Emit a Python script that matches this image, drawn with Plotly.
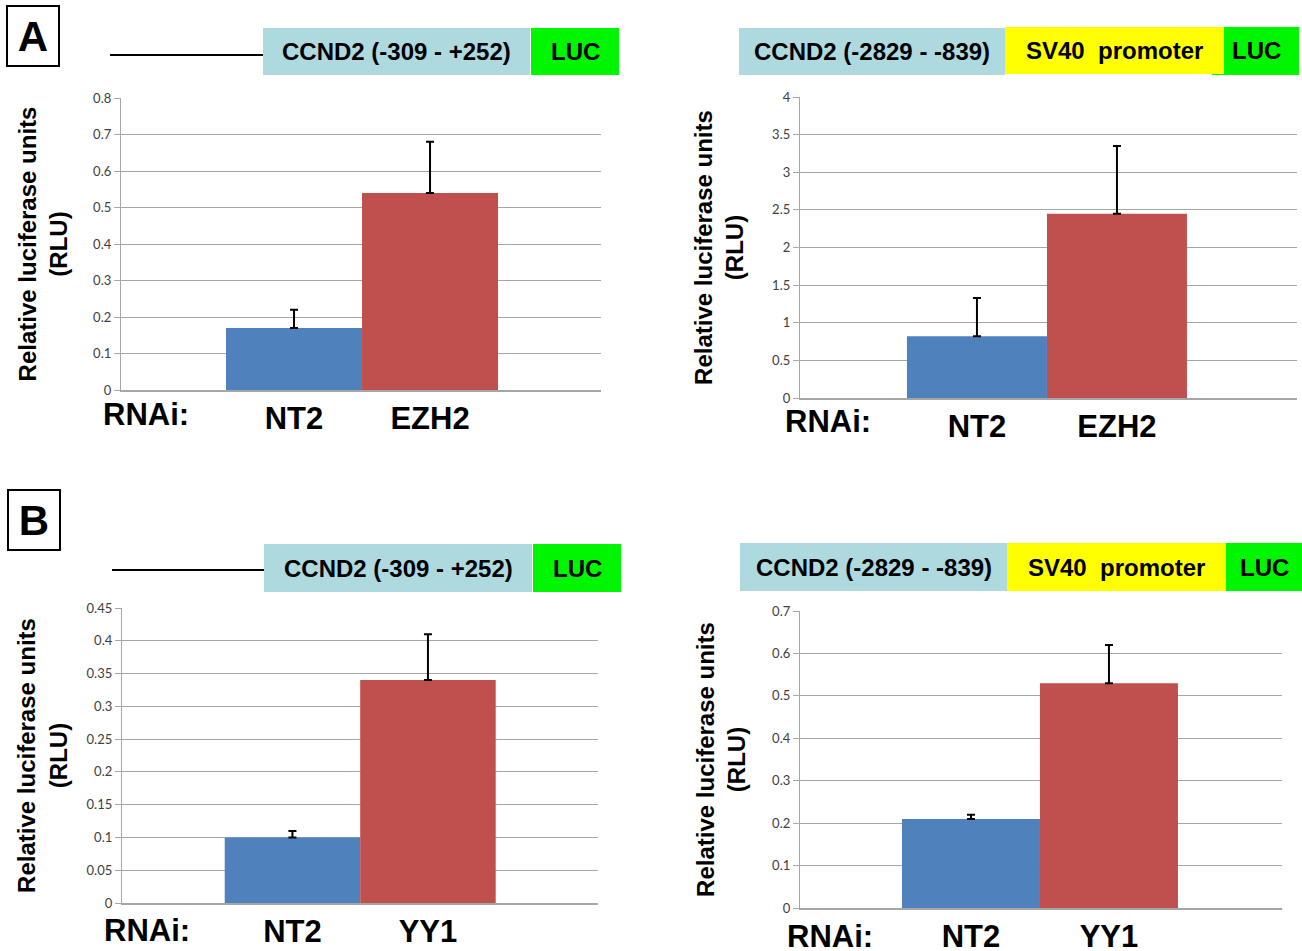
import plotly.graph_objects as go

W, H = 1302, 951

# ---------------- data ----------------
categories_A = ["NT2", "EZH2"]
categories_B = ["NT2", "YY1"]

rlu_A_proximal = [0.17, 0.54]
err_A_proximal = [0.05, 0.14]
rlu_A_distal = [0.82, 2.45]
err_A_distal = [0.51, 0.90]
rlu_B_proximal = [0.10, 0.34]
err_B_proximal = [0.01, 0.07]
rlu_B_distal = [0.21, 0.53]
err_B_distal = [0.01, 0.09]

ticks_A_proximal = [0, 0.1, 0.2, 0.3, 0.4, 0.5, 0.6, 0.7, 0.8]
ticks_A_distal = [0, 0.5, 1, 1.5, 2, 2.5, 3, 3.5, 4]
ticks_B_proximal = [0, 0.05, 0.1, 0.15, 0.2, 0.25, 0.3, 0.35, 0.4, 0.45]
ticks_B_distal = [0, 0.1, 0.2, 0.3, 0.4, 0.5, 0.6, 0.7]

bar_colors = ["#4F81BD", "#C0504D"]
y_title = "Relative luciferase units<br>(RLU)"
rnai_label = "RNAi:"
panel_letters = ["A", "B"]
label_proximal = "CCND2 (-309 - +252)"
label_distal = "CCND2 (-2829 - -839)"
label_sv40 = "SV40  promoter"
label_luc = "LUC"

# ---------------- helpers ----------------
def px(x):
    return x / W

def py(y):
    return 1 - y / H

NARROW = "Liberation Sans Narrow, Arial Narrow, Liberation Sans, Arial"
ARIAL = "Liberation Sans, Arial"
TICKFONT = "Lato, Carlito, Calibri, Open Sans"
GRID = "#A6A6A6"

panels = [
    dict(cats=categories_A, vals=rlu_A_proximal, errs=err_A_proximal, ticks=ticks_A_proximal,
         box=(121, 601, 98, 390), rng=(-1.272, 2.257), standoff=18, rnai=(146, 415)),
    dict(cats=categories_A, vals=rlu_A_distal, errs=err_A_distal, ticks=ticks_A_distal,
         box=(800, 1297, 97, 398), rng=(-1.264, 2.286), standoff=21, rnai=(828, 421)),
    dict(cats=categories_B, vals=rlu_B_proximal, errs=err_B_proximal, ticks=ticks_B_proximal,
         box=(122, 598, 608, 903), rng=(-1.258, 2.255), standoff=12, rnai=(147, 930)),
    dict(cats=categories_B, vals=rlu_B_distal, errs=err_B_distal, ticks=ticks_B_distal,
         box=(800, 1282, 611, 908), rng=(-1.239, 2.254), standoff=19, rnai=(830, 936)),
]

fig = go.Figure()
layout = dict(
    width=W, height=H,
    margin=dict(l=0, r=0, t=0, b=0),
    paper_bgcolor="white", plot_bgcolor="white",
    showlegend=False,
    shapes=[], annotations=[],
)

for i, p in enumerate(panels):
    n = "" if i == 0 else str(i + 1)
    x0, x1, y0, y1 = p["box"]
    fig.add_trace(go.Bar(
        x=p["cats"], y=p["vals"],
        xaxis="x" + n, yaxis="y" + n,
        width=1.0,
        marker=dict(color=bar_colors, line=dict(width=0)),
        error_y=dict(type="data", array=p["errs"], arrayminus=[0] * len(p["errs"]),
                     symmetric=False, color="black", thickness=2, width=4),
    ))
    layout["xaxis" + n] = dict(
        domain=[px(x0), px(x1)], anchor="y" + n, type="category",
        range=list(p["rng"]), showgrid=False, zeroline=False,
        showline=True, linecolor=GRID, linewidth=1.5,
        ticks="", ticklabelstandoff=0,
        tickfont=dict(family=NARROW, size=31, color="black", weight="bold"),
        automargin=False, fixedrange=True,
    )
    layout["yaxis" + n] = dict(
        domain=[py(y1), py(y0)], anchor="x" + n,
        range=[0, p["ticks"][-1]],
        tickvals=p["ticks"], ticktext=[f"{v:g}" for v in p["ticks"]],
        showgrid=True, gridcolor=GRID, gridwidth=1.3,
        zeroline=False, showline=True, linecolor=GRID, linewidth=1.3,
        ticks="outside", ticklen=6, tickcolor=GRID, tickwidth=1.3,
        tickfont=dict(family=TICKFONT, size=13, color="#404040"),
        title=dict(text=y_title, standoff=p["standoff"],
                   font=dict(family=ARIAL, size=24, color="black", weight="bold")),
        automargin=False, fixedrange=True,
    )
    rx, ry = p["rnai"]
    layout["annotations"].append(dict(
        text=rnai_label, x=px(rx), y=py(ry), xref="paper", yref="paper",
        showarrow=False, xanchor="center", yanchor="middle",
        font=dict(family=NARROW, size=31, color="black", weight="bold"),
    ))

# ---------------- construct diagrams ----------------
HEADFONT = dict(family=NARROW, size=24, color="black", weight="bold")

def box(xa, xb, ya, yb, color, text=None):
    layout["shapes"].append(dict(type="rect", xref="paper", yref="paper",
                                 x0=px(xa), x1=px(xb), y0=py(yb), y1=py(ya),
                                 fillcolor=color, line=dict(width=0), layer="above"))
    if text:
        label(text, (xa + xb) / 2, (ya + yb) / 2)

def label(text, cx, cy):
    layout["annotations"].append(dict(
        text=text, x=px(cx), y=py(cy), xref="paper", yref="paper",
        showarrow=False, xanchor="center", yanchor="middle", font=HEADFONT,
    ))

def hline(xa, xb, y):
    layout["shapes"].append(dict(type="line", xref="paper", yref="paper",
                                 x0=px(xa), x1=px(xb), y0=py(y), y1=py(y),
                                 line=dict(color="black", width=2)))

LIGHTBLUE = "#ADD9DF"
YELLOW = "#FFFF00"
GREEN = "#00F500"

# Panel A, left
hline(110, 263, 55)
box(263, 530, 28, 75, LIGHTBLUE, label_proximal)
box(531, 619, 28, 75, GREEN, label_luc)
# Panel A, right
box(739, 1005, 28, 75, LIGHTBLUE, label_distal)
box(1212, 1299, 27, 75, GREEN, None)
box(1005, 1224, 27, 74, YELLOW, label_sv40)
label(label_luc, 1256, 50)
# Panel B, left
hline(112, 264, 570)
box(264, 532, 544, 592, LIGHTBLUE, label_proximal)
box(533, 621, 544, 592, GREEN, label_luc)
# Panel B, right
box(740, 1007, 543, 591, LIGHTBLUE, label_distal)
box(1007, 1226, 543, 591, YELLOW, label_sv40)
box(1226, 1302, 543, 591, GREEN, label_luc)

# panel letters
for letter, (cx, cy) in zip(panel_letters, [(33, 36), (34, 520)]):
    layout["annotations"].append(dict(
        text=letter, x=px(cx), y=py(cy), xref="paper", yref="paper",
        showarrow=False, xanchor="center", yanchor="middle",
        font=dict(family=ARIAL, size=42, color="black", weight="bold"),
        bordercolor="black", borderwidth=2, borderpad=2, width=46, height=54,
    ))

fig.update_layout(**layout)
fig.write_html("out.html", config={"displayModeBar": False},
               post_script="document.body.style.margin='0';document.body.style.overflow='hidden';")
